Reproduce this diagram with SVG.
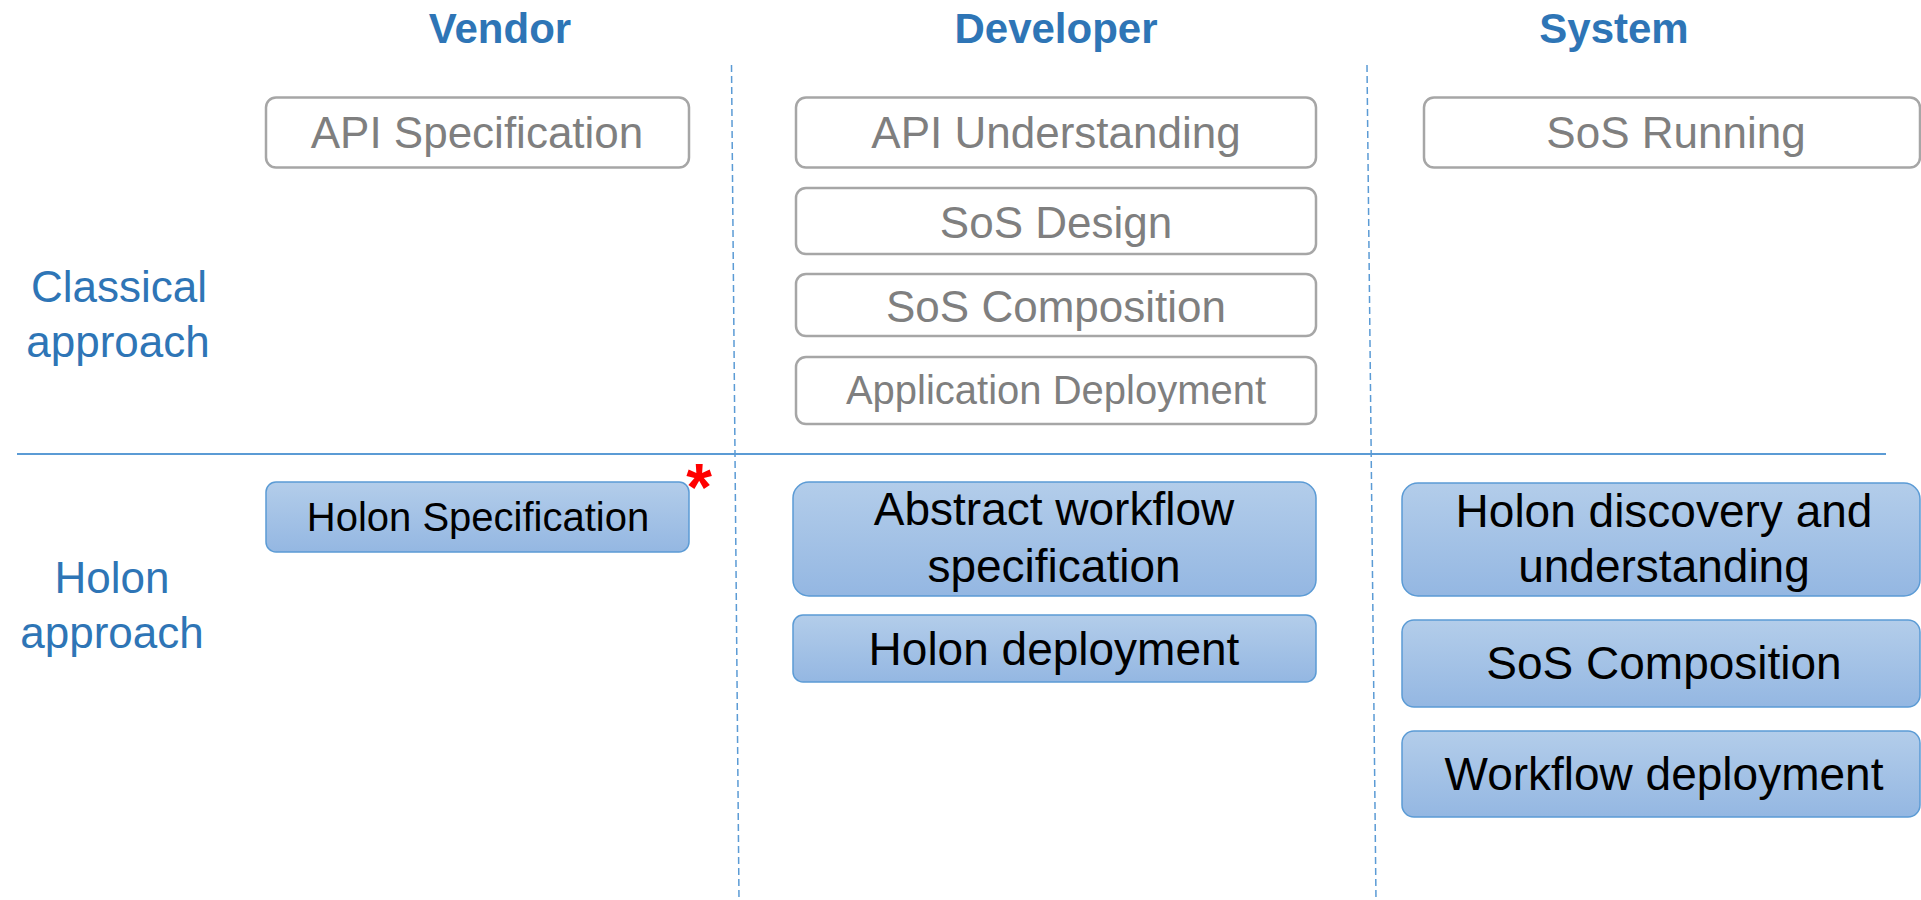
<svg xmlns="http://www.w3.org/2000/svg" width="1921" height="900" viewBox="0 0 1921 900">
<defs>
<linearGradient id="blueGrad" x1="0" y1="0" x2="0" y2="1">
<stop offset="0" stop-color="#b3cdea"/>
<stop offset="1" stop-color="#94b7e2"/>
</linearGradient>
<style>
.gbox{fill:#ffffff;stroke:#a6a6a6;stroke-width:2.5}
.bbox{fill:url(#blueGrad);stroke:#5b9bd5;stroke-width:1.5}
.gtxt{font-family:"Liberation Sans",Arial,sans-serif;fill:#7f7f7f;text-anchor:middle}
.btxt{font-family:"Liberation Sans",Arial,sans-serif;fill:#000000;text-anchor:middle}
.title{font-family:"Liberation Sans",Arial,sans-serif;font-weight:bold;font-size:42px;fill:#2e75b6;text-anchor:middle}
.lbl{font-family:"Liberation Sans",Arial,sans-serif;font-size:44px;fill:#2e75b6;text-anchor:middle}
.sep{stroke:#5b9bd5;stroke-width:1.5;stroke-dasharray:7 4;fill:none}
</style>
</defs>
<rect x="0" y="0" width="1921" height="900" fill="#ffffff"/>

<g id="titles">
<text class="title" x="500" y="43">Vendor</text>
<text class="title" x="1056" y="43">Developer</text>
<text class="title" x="1614" y="43">System</text>
</g>

<g id="row-labels">
<text class="lbl" x="119" y="302">Classical</text>
<text class="lbl" x="118" y="357">approach</text>
<text class="lbl" x="112" y="593">Holon</text>
<text class="lbl" x="112" y="648">approach</text>
</g>

<g id="separators">
<line x1="17" y1="454" x2="1886" y2="454" stroke="#5b9bd5" stroke-width="2"/>
<line class="sep" x1="731.5" y1="65" x2="739" y2="900"/>
<line class="sep" x1="1367" y1="65" x2="1376" y2="900"/>
</g>

<g id="api-specification">
<rect class="gbox" x="266" y="97.5" width="423" height="70" rx="10"/>
<text class="gtxt" x="477" y="148" font-size="44">API Specification</text>
</g>
<g id="api-understanding">
<rect class="gbox" x="796" y="97.5" width="520" height="70" rx="10"/>
<text class="gtxt" x="1056" y="148" font-size="44">API Understanding</text>
</g>
<g id="sos-design">
<rect class="gbox" x="796" y="188" width="520" height="66" rx="10"/>
<text class="gtxt" x="1056" y="238" font-size="44">SoS Design</text>
</g>
<g id="sos-composition-classical">
<rect class="gbox" x="796" y="274" width="520" height="62" rx="10"/>
<text class="gtxt" x="1056" y="322" font-size="44">SoS Composition</text>
</g>
<g id="application-deployment">
<rect class="gbox" x="796" y="357" width="520" height="67" rx="10"/>
<text class="gtxt" x="1056" y="404" font-size="40">Application Deployment</text>
</g>
<g id="sos-running">
<rect class="gbox" x="1424" y="97.5" width="496" height="70" rx="10"/>
<text class="gtxt" x="1676" y="148" font-size="44">SoS Running</text>
</g>

<g id="holon-specification">
<rect class="bbox" x="266" y="482" width="423" height="70" rx="10"/>
<text class="btxt" x="478" y="531" font-size="40">Holon Specification</text>
<text x="699" y="510" font-family="Liberation Sans, Arial, sans-serif" font-size="66" font-weight="bold" fill="#ff0000" text-anchor="middle">*</text>
</g>
<g id="abstract-workflow-specification">
<rect class="bbox" x="793" y="482" width="523" height="114" rx="16"/>
<text class="btxt" x="1054" y="525" font-size="46">Abstract workflow</text>
<text class="btxt" x="1054" y="582" font-size="46">specification</text>
</g>
<g id="holon-deployment">
<rect class="bbox" x="793" y="615" width="523" height="67" rx="10"/>
<text class="btxt" x="1054" y="665" font-size="46">Holon deployment</text>
</g>
<g id="holon-discovery">
<rect class="bbox" x="1402" y="483" width="518" height="113" rx="16"/>
<text class="btxt" x="1664" y="527" font-size="46">Holon discovery and</text>
<text class="btxt" x="1664" y="582" font-size="46">understanding</text>
</g>
<g id="sos-composition-holon">
<rect class="bbox" x="1402" y="620" width="518" height="87" rx="12"/>
<text class="btxt" x="1664" y="679" font-size="46">SoS Composition</text>
</g>
<g id="workflow-deployment">
<rect class="bbox" x="1402" y="731" width="518" height="86" rx="12"/>
<text class="btxt" x="1664" y="790" font-size="46">Workflow deployment</text>
</g>
</svg>
